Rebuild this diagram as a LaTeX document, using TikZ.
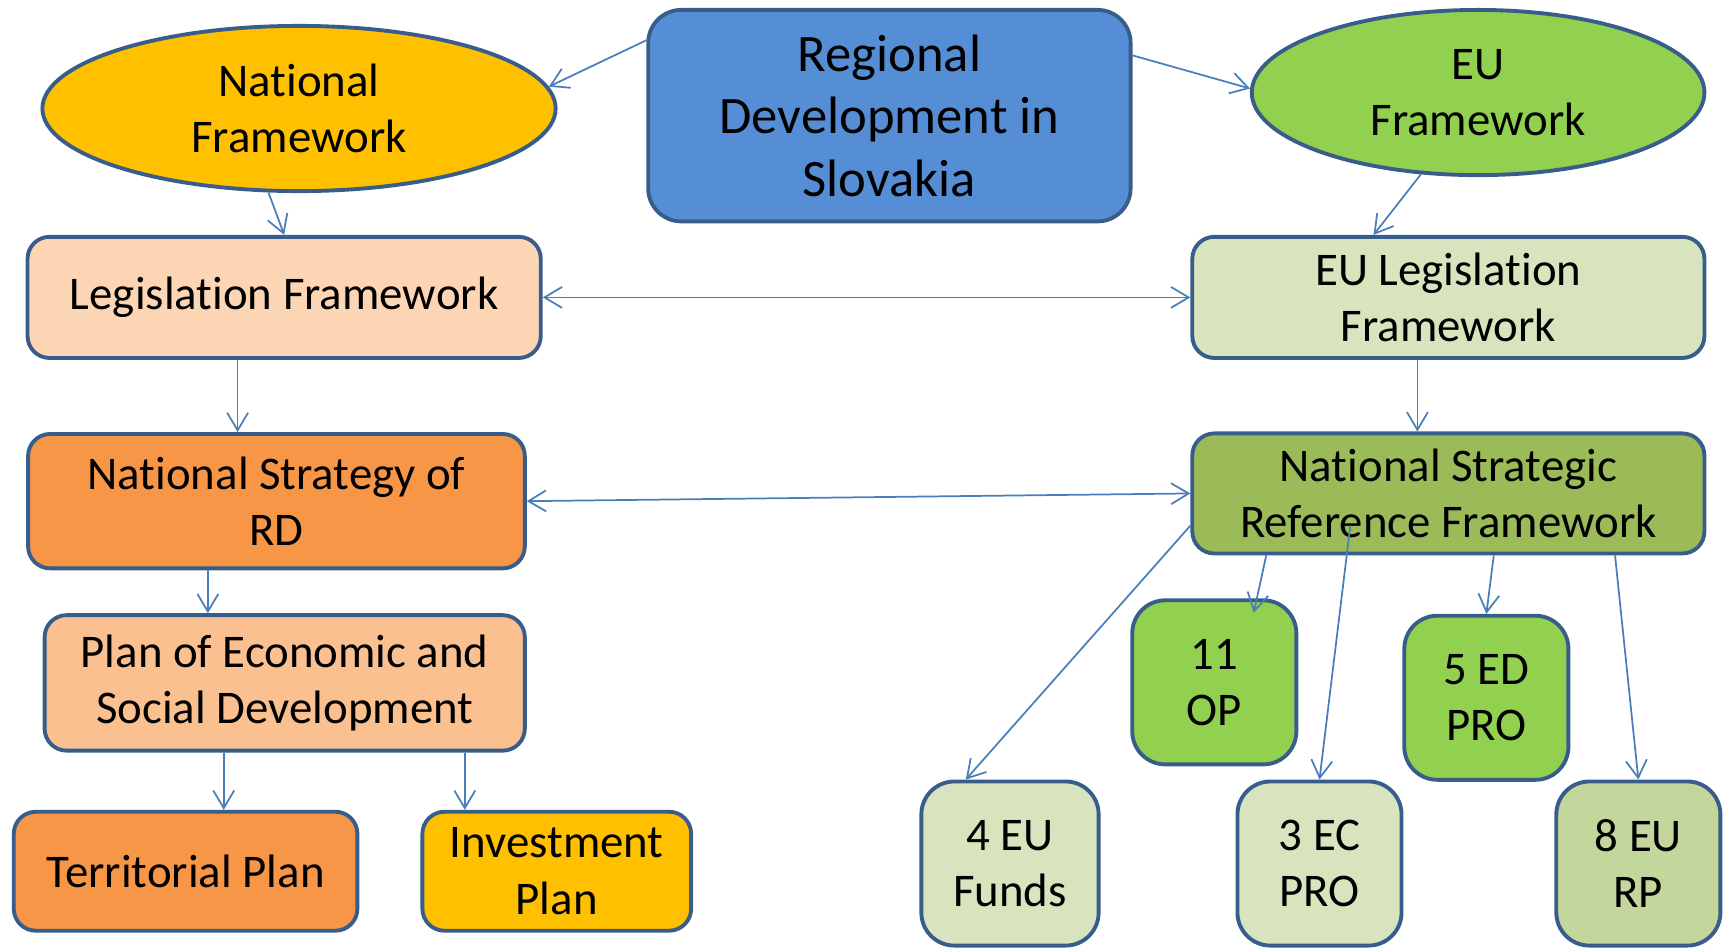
\documentclass[tikz,border=0pt]{standalone}
\usepackage{fontspec}
\setmainfont{Carlito}[RawFeature={-liga;-clig;-calt;-dlig}]
\usepackage{tikz}
\usetikzlibrary{
  shapes,       % Shape "ellipse"
  arrows.meta,  % Tip "Straight Barb"
  positioning,
  calc,         % Calculations $...$
}
\definecolor{rdblue}{HTML}{558ED5}
\definecolor{rdedge}{HTML}{385D8A}
\definecolor{rdline}{HTML}{4A7EBB}
\definecolor{natyellow}{HTML}{FFC000}
\definecolor{natpeach}{HTML}{FCD5B5}
\definecolor{natorange}{HTML}{F79646}
\definecolor{natlight}{HTML}{FAC090}
\definecolor{eugreen}{HTML}{92D050}
\definecolor{eupale}{HTML}{D7E4BD}
\definecolor{euolive}{HTML}{9BBB59}
\definecolor{eusage}{HTML}{C3D69B}
\def\myradius{2mm}
\def\mybigradius{3mm}
\tikzset{
  font=\fontsize{12.1}{14.6}\selectfont,
  >={Straight Barb[length=1.6mm,width=1.9mm]},
  my shape/.style={
    draw=rdedge,
    line width=1pt,
    align=center,
    text=black
  },
  my box/.style={
    my shape,
    rounded corners=\myradius,
    inner sep=0.5mm,
    rectangle
  },
  my tile/.style={
    my box,
    rounded corners=\mybigradius,
    minimum width=1.49cm,
    minimum height=1.49cm
  },
  my oval/.style={
    my shape,
    inner sep=0mm,
    ellipse
  },
  dims/.style 2 args={
    minimum width=#1cm,
    minimum height=#2cm
  },
  my arrow/.style={
    draw=rdline,
    line width=0.45pt
  }
}

\begin{document}
\begin{tikzpicture}
\useasboundingbox (0,0) rectangle (15.68,-8.62);
% top row
\node[my box,fill=rdblue,dims={4.38}{1.92},rounded corners=\mybigradius,
  font=\fontsize{13.6}{16.2}\selectfont] (rd) at (8.075,-1.05)
  {Regional\\Development in\\Slovakia};
\node[my oval,fill=natyellow,dims={4.66}{1.50}] (nf) at (2.715,-0.985)
  {National\\Framework};
\node[my oval,fill=eugreen,dims={4.11}{1.50}] (eu) at (13.42,-0.84)
  {EU\\Framework};
% national side
\node[my box,fill=natpeach,dims={4.66}{1.10}] (lf) at (2.58,-2.70)
  {Legislation Framework};
\node[my box,fill=natorange,dims={4.51}{1.22}] (nsrd) at (2.51,-4.55)
  {National Strategy of\\RD};
\node[my box,fill=natlight,dims={4.36}{1.23}] (peds) at (2.585,-6.20)
  {Plan of Economic and\\Social Development};
\node[my box,fill=natorange,dims={3.12}{1.08}] (tp) at (1.685,-7.91)
  {Territorial Plan};
\node[my box,fill=natyellow,dims={2.44}{1.08}] (ip) at (5.055,-7.91)
  {Investment\\Plan};
% EU side
\node[my box,fill=eupale,dims={4.65}{1.10}] (eulf) at (13.15,-2.70)
  {EU Legislation\\Framework};
\node[my box,fill=euolive,dims={4.65}{1.09}] (nsrf) at (13.15,-4.48)
  {National Strategic\\Reference Framework};
\node[my tile,fill=eugreen] (op) at (11.025,-6.195) {11\\OP};
\node[my tile,fill=eugreen] (ed) at (13.495,-6.335) {5 ED\\PRO};
\node[my tile,fill=eupale,minimum width=1.61cm] (fu) at (9.17,-7.84) {4 EU\\Funds};
\node[my tile,fill=eupale] (ec) at (11.98,-7.84) {3 EC\\PRO};
\node[my tile,fill=eusage] (rp) at (14.875,-7.84) {8 EU\\RP};
% connectors
\draw[my arrow,->] ($(rd.north west)!0.15!(rd.south west)$) -- (nf.5);
\draw[my arrow,->] ($(rd.north east)!0.22!(rd.south east)$) -- (eu.179);
\draw[my arrow,->] (nf.250) -- (lf.north);
\draw[my arrow,->] (eu.235) -- ($(eulf.north west)!0.355!(eulf.north east)$);
\draw[my arrow,<->] (lf.east) -- (eulf.west);
\draw[my arrow,->] ($(lf.south west)!0.41!(lf.south east)$) coordinate (a)
    -- (a |- nsrd.north);
\draw[my arrow,->] ($(eulf.south west)!0.44!(eulf.south east)$) coordinate (b)
    -- (b |- nsrf.north);
\draw[my arrow,<->] (nsrd.east) -- (nsrf.west);
\draw[my arrow,->] ($(nsrd.south west)!0.363!(nsrd.south east)$) coordinate (c)
    -- (c |- peds.north);
\draw[my arrow,->] ($(peds.south west)!0.374!(peds.south east)$) coordinate (d)
    -- (d |- tp.north);
\draw[my arrow,->] ($(peds.south west)!0.872!(peds.south east)$) coordinate (e)
    -- (e |- ip.north);
\draw[my arrow,->] ($(nsrf.north west)!0.76!(nsrf.south west)$)
    -- ($(fu.north west)!0.256!(fu.north east)$);
\draw[my arrow,->] ($(nsrf.south west)!0.147!(nsrf.south east)$)
    -- ($(op.north west)!0.735!(op.north east)-(0,0.13)$);
\draw[my arrow,->] ($(nsrf.south west)!0.31!(nsrf.south east)+(0,0.27)$)
    -- (ec.north);
\draw[my arrow,->] ($(nsrf.south west)!0.588!(nsrf.south east)$) -- (ed.north);
\draw[my arrow,->] ($(nsrf.south west)!0.823!(nsrf.south east)$) -- (rp.north);
\end{tikzpicture}
\end{document}
